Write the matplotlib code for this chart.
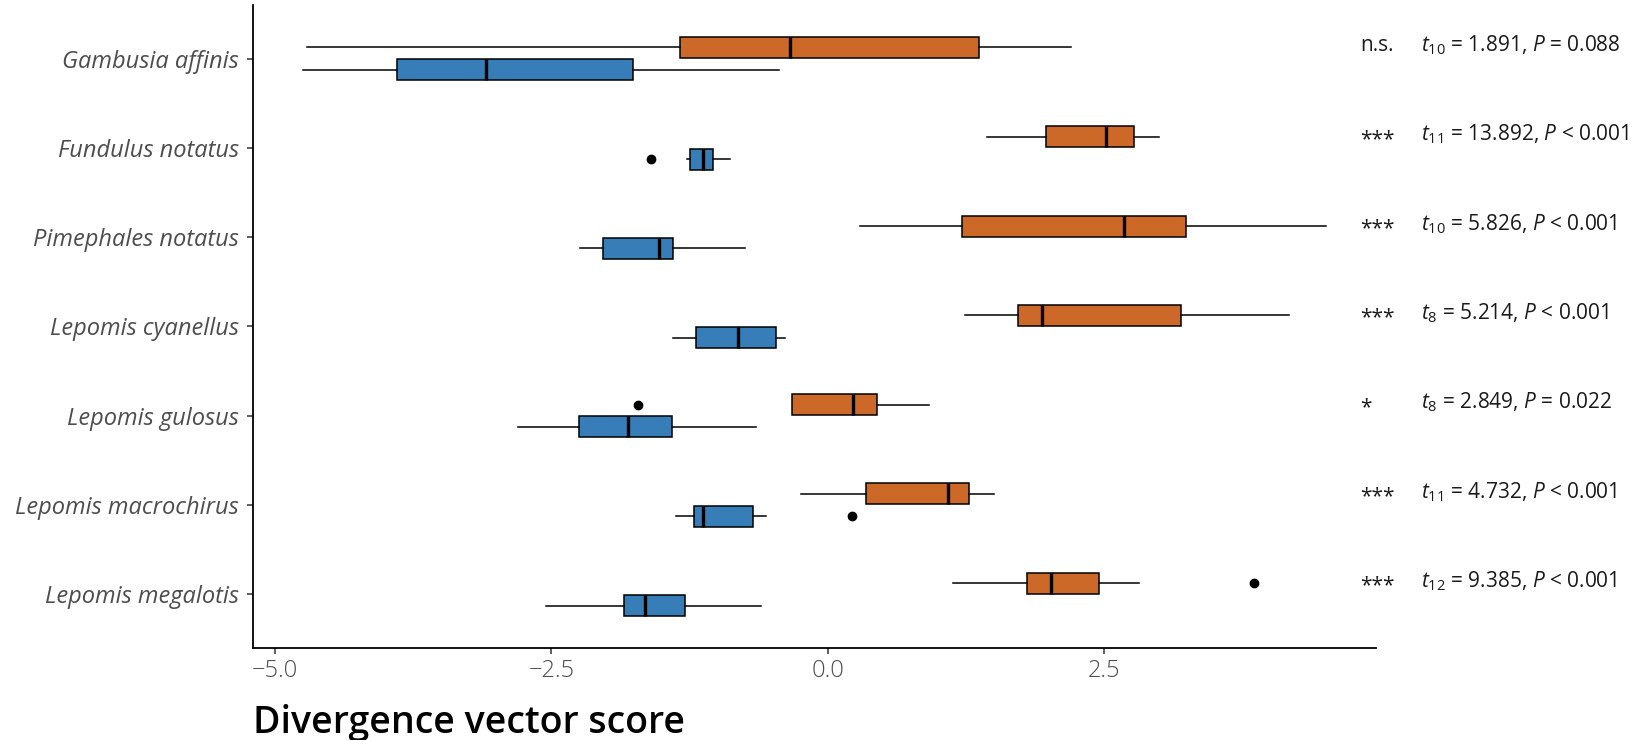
import matplotlib
matplotlib.use("Agg")
import matplotlib.pyplot as plt

species = ["Gambusia affinis", "Fundulus notatus", "Pimephales notatus",
           "Lepomis cyanellus", "Lepomis gulosus", "Lepomis macrochirus",
           "Lepomis megalotis"]

# orange group (upper box of each pair)
a_whislo = [-4.71, 1.44, 0.29, 1.24, -0.32, -0.24, 1.13]
a_q1 = [-1.34, 1.98, 1.22, 1.72, -0.32, 0.35, 1.80]
a_med = [-0.34, 2.52, 2.68, 1.94, 0.23, 1.09, 2.02]
a_q3 = [1.37, 2.77, 3.24, 3.20, 0.45, 1.28, 2.46]
a_whishi = [2.20, 3.00, 4.51, 4.18, 0.92, 1.51, 2.82]
a_fliers = [[], [], [], [], [-1.72], [], [3.86]]

# blue group (lower box of each pair)
b_whislo = [-4.75, -1.27, -2.24, -1.40, -2.80, -1.37, -2.55]
b_q1 = [-3.895, -1.25, -2.03, -1.19, -2.25, -1.21, -1.84]
b_med = [-3.09, -1.13, -1.53, -0.81, -1.81, -1.13, -1.65]
b_q3 = [-1.76, -1.035, -1.40, -0.47, -1.41, -0.68, -1.29]
b_whishi = [-0.44, -0.88, -0.75, -0.39, -0.65, -0.56, -0.60]
b_fliers = [[], [-1.60], [], [], [], [0.22], []]

# t-test results
signif = ["n.s.", "***", "***", "***", "*", "***", "***"]
dfree = [10, 11, 10, 8, 8, 11, 12]
tstat = ["1.891", "13.892", "5.826", "5.214", "2.849", "4.732", "9.385"]
pcomp = ["=", "<", "<", "<", "=", "<", "<"]
pval = ["0.088", "0.001", "0.001", "0.001", "0.022", "0.001", "0.001"]

plt.rcParams["font.family"] = ["Open Sans", "DejaVu Sans"]
plt.rcParams["mathtext.fontset"] = "custom"
plt.rcParams["mathtext.rm"] = "Open Sans"
plt.rcParams["mathtext.it"] = "Open Sans:italic"

orange = "#CC6828"
blue = "#377EB8"

fig = plt.figure(figsize=(16.37, 7.4), dpi=100)
ax = fig.add_axes([0.1544, 0.1243, 0.6862, 0.869])

n = len(species)
ypos = [n - i for i in range(n)]
off = 0.125
bh = 0.235


def make_stats(lo, q1, med, q3, hi, fl):
    return [dict(whislo=lo[i], q1=q1[i], med=med[i], q3=q3[i], whishi=hi[i],
                 fliers=fl[i]) for i in range(len(lo))]


for stats, col, sgn in [
        (make_stats(a_whislo, a_q1, a_med, a_q3, a_whishi, a_fliers), orange, 1),
        (make_stats(b_whislo, b_q1, b_med, b_q3, b_whishi, b_fliers), blue, -1)]:
    ax.bxp(stats, positions=[y + sgn * off for y in ypos], widths=bh,
           vert=False, patch_artist=True, showcaps=False,
           boxprops=dict(facecolor=col, edgecolor="black", linewidth=1.1),
           medianprops=dict(color="black", linewidth=2.4),
           whiskerprops=dict(color="black", linewidth=1.1),
           flierprops=dict(marker="o", markerfacecolor="black",
                           markeredgecolor="black", markersize=6))

ax.set_xlim(-5.204, 4.964)
ax.set_ylim(0.4, 7.6)
ax.set_xticks([-5.0, -2.5, 0.0, 2.5])
ax.set_xticklabels(["\u22125.0", "\u22122.5", "0.0", "2.5"])
ax.set_yticks(ypos)
ax.set_yticklabels(species, fontstyle="italic", fontsize=17, color="#4d4d4d")
for lab in ax.get_xticklabels():
    lab.set_fontsize(17)
    lab.set_fontweight("light")
    lab.set_color("#4d4d4d")
ax.tick_params(axis="both", length=4, width=1.1, color="#333333")
ax.tick_params(axis="y", pad=6)
ax.tick_params(axis="x", pad=4)

for s in ["top", "right"]:
    ax.spines[s].set_visible(False)
for s in ["left", "bottom"]:
    ax.spines[s].set_linewidth(1.3)

for i, y in enumerate(ypos):
    # asterisks sit high in the font, so drop them a little
    dy = 0.095 if signif[i].startswith("*") else 0.15
    ax.text(4.82, y + dy, signif[i], fontsize=15, va="center", ha="left",
            color="#1a1a1a", clip_on=False)
    txt = r"$t_{%d}$ = %s, $P$ %s %s" % (dfree[i], tstat[i], pcomp[i], pval[i])
    ax.text(5.37, y + 0.15, txt, fontsize=15, va="center", ha="left",
            color="#1a1a1a", clip_on=False)

fig.text(0.1544, 0.0095, "Divergence vector score", fontsize=27,
         fontweight="semibold", ha="left", va="baseline")

fig.savefig("out.png", dpi=100)
